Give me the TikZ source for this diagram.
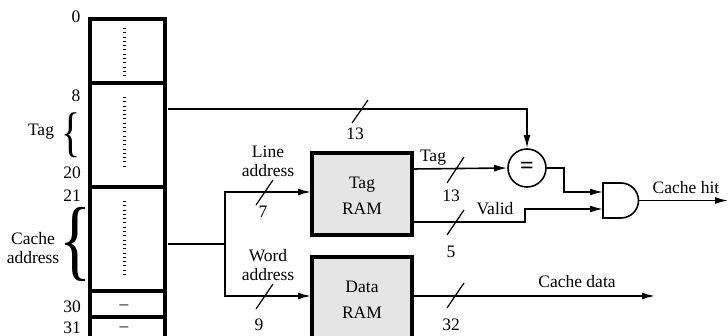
\documentclass[tikz,border=0pt]{standalone}
\usepackage{amsmath, amssymb}
\usepackage{fontspec}
\setmainfont{Liberation Serif}
\usepackage{tikz}
\usetikzlibrary{arrows.meta}

\begin{document}
\begin{tikzpicture}[
    x=1pt, y=-1pt,
    every node/.style={font=\fontsize{17.5}{19}\selectfont, inner sep=0pt, align=center},
    field/.style={draw=black, line width=3.4pt, outer sep=0pt, minimum width=75pt, anchor=north west},
    ram/.style={draw=black, line width=3.5pt, outer sep=0pt, fill=black!10, minimum width=100pt,
      minimum height=82pt, font=\fontsize{17.5}{26}\selectfont},
    wire/.style={line width=1.6pt},
    arrow/.style={wire, -{Latex[length=13pt,width=7pt]}},
    slash/.style={line width=1.2pt},
    ticks/.style={line width=3pt, dash pattern=on 1pt off 3.3pt}
  ]
  \useasboundingbox (0,0) rectangle (728,336);

  % Memory fields
  \node[field, minimum height=64pt]  (f0)  at (90,19)  {};
  \node[field, minimum height=104pt] (f8)  at (90,83)  {};
  \node[field, minimum height=104pt] (f21) at (90,187) {};
  \node[field, minimum height=26pt]  (f30) at (90,291) {};
  \node[field, minimum height=40pt]  (f31) at (90,317) {};
  % Dots and dashes inside the fields
  \draw[ticks] (124.5,28)  -- (124.5,77);
  \draw[ticks] (124.5,97)  -- (124.5,167);
  \draw[ticks] (124.5,201) -- (124.5,277);
  \node (d30) at (124,307) {--};
  \node (d31) at (124,329) {--};

  % Bit numbers
  \node (n0)  at (76,17)  {0};
  \node (n8)  at (76,96)  {8};
  \node (n20) at (72,173) {20};
  \node (n21) at (72,196) {21};
  \node (n30) at (72,307) {30};
  \node (n31) at (72,328) {31};
  % Braces
  \node (tagtxt)   at (41,132)  {Tag};
  \node (tagbr)    at (71.5,135.5) {\resizebox*{19pt}{45pt}{\{}};
  \node (cachetxt) at (33,248)  {Cache\\address};
  \node (cachebr)  at (75.5,244)   {\resizebox*{32pt}{74pt}{\{}};

  % Blocks
  \node[ram] (tagram)  at (362,194) {\rule{0pt}{16pt}Tag\\RAM};
  \node[ram] (dataram) at (362,298) {\rule{0pt}{16pt}Data\\RAM};
  \node[circle, draw=black, line width=1.6pt, minimum size=38pt] (eq) at (527,168)
    {\fontsize{24}{24}\selectfont\textbf{=}};
  % AND gate
  \draw[wire] (603,183) -- (621,183) arc[start angle=90, end angle=-90, radius=17.5pt]
    -- (603,218) -- cycle;
  \coordinate (gatein1) at (603,192);
  \coordinate (gatein2) at (603,209);
  \coordinate (gateout) at (639,200.5);

  % Wire ends
  \coordinate (tagout)   at (168,109);
  \coordinate (tagcorner) at (527,109);
  \coordinate (addrout)  at (168,244);
  \coordinate (fork)     at (225,244);
  \coordinate (tagin)    at (311,192);
  \coordinate (datain)   at (311,296);
  \coordinate (tagq)     at (413,169);
  \coordinate (validq)   at (413,222);
  \coordinate (dataq)    at (413,296);
  \coordinate (hit)      at (728,200.5);
  \coordinate (dataend)  at (655,296);

  % Wires
  \draw[arrow] (tagout) -- (tagcorner) -- (eq.north);
  \draw[wire] (addrout) -- (fork);
  \draw[arrow] (fork) |- (tagin);
  \draw[arrow] (fork) |- (datain);
  \draw[arrow] (tagq) -- (eq.west);
  \draw[arrow] (eq.east) -- (564,168) -- (564,192) -- (gatein1);
  \draw[arrow] (validq) -- (525,222) -- (525,209) -- (gatein2);
  \draw[arrow] (gateout) -- (hit);
  \draw[arrow] (dataq) -- (dataend);

  % Bus slashes
  \draw[slash] (352,123) -- (368,100);
  \draw[slash] (256,205) -- (273,180);
  \draw[slash] (256,309) -- (273,284);
  \draw[slash] (447,183) -- (464,157);
  \draw[slash] (447,235) -- (464,210);
  \draw[slash] (447,308) -- (464,283);

  % Wire labels
  \node (w13a) at (355,134) {13};
  \node (w7)   at (263,212) {7};
  \node (w9)   at (259,325) {9};
  \node (w13b) at (451,196) {13};
  \node (w5)   at (451,252) {5};
  \node (w32)  at (451,325) {32};
  \node (line) at (268,161) {Line\\address};
  \node (word) at (268,265) {Word\\address};
  \node (tagl) at (433,158) {Tag};
  \node (vald) at (495,209) {Valid};
  \node (hitl) at (686,188) {Cache hit};
  \node (datl) at (577,282) {Cache data};
\end{tikzpicture}
\end{document}
